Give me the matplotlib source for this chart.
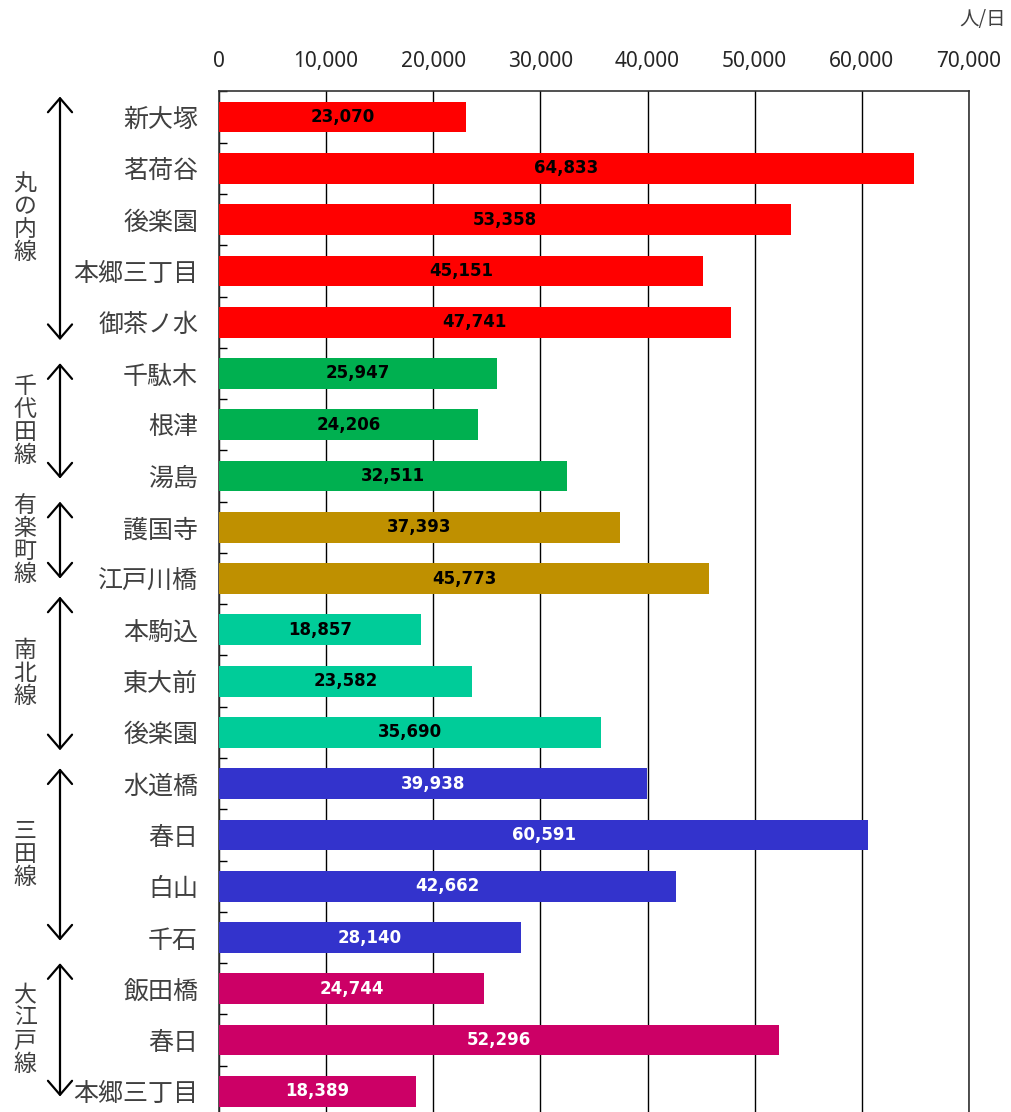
import matplotlib.pyplot as plt
import matplotlib.transforms as mtransforms
import numpy as np

plt.rcParams['font.family'] = ['Noto Sans CJK JP', 'DejaVu Sans']

# data
stations = ['新大塚', '茗荷谷', '後楽園', '本郷三丁目', '御茶ノ水',
            '千駄木', '根津', '湯島',
            '護国寺', '江戸川橋',
            '本駒込', '東大前', '後楽園',
            '水道橋', '春日', '白山', '千石',
            '飯田橋', '春日', '本郷三丁目']
riders = [23070, 64833, 53358, 45151, 47741,
          25947, 24206, 32511,
          37393, 45773,
          18857, 23582, 35690,
          39938, 60591, 42662, 28140,
          24744, 52296, 18389]
lines = ['丸の内線', '千代田線', '有楽町線', '南北線', '三田線', '大江戸線']
line_sizes = [5, 3, 2, 3, 4, 3]
line_colors = ['#FF0000', '#00B050', '#BF9000', '#00CC99', '#3333CC', '#CC0066']
label_colors = ['black', 'black', 'black', 'black', 'white', 'white']
x_ticks = [0, 10000, 20000, 30000, 40000, 50000, 60000, 70000]

# arrow end offsets (in slots) for each line group
arrow_pad = [(-0.4, 0.35), (-0.2, 0.05), (-0.5, 0.0), (-0.65, 0.35), (-0.3, 0.06), (-0.5, 0.1)]

fig = plt.figure(figsize=(10.11, 11.12), dpi=100)
ax = fig.add_axes([219 / 1011, -0.0045, 750 / 1011, 0.9223])

bar_cols, txt_cols = [], []
for n, c, t in zip(line_sizes, line_colors, label_colors):
    bar_cols += [c] * n
    txt_cols += [t] * n

y = np.arange(len(stations))
ax.barh(y, riders, height=0.6, color=bar_cols, zorder=3)
for yi, v, tc in zip(y, riders, txt_cols):
    ax.text(v / 2, yi, f'{v:,}', ha='center', va='center', color=tc,
            fontsize=12, fontweight='bold', family='DejaVu Sans', zorder=4)

ax.set_xlim(0, 70000)
ax.set_ylim(len(stations) - 0.5, -0.5)
ax.xaxis.tick_top()
ax.set_xticks(x_ticks)
ax.set_xticklabels([f'{t:,}' for t in x_ticks], fontsize=15, color='#262626',
                   family=['Noto Sans', 'DejaVu Sans'])
ax.tick_params(axis='x', length=0, pad=14)
ax.grid(axis='x', color='black', linewidth=1, zorder=0)

ax.set_yticks(y)
ax.set_yticklabels(stations, fontsize=18, color='#404040')
ax.tick_params(axis='y', length=0, pad=15)
ax.set_yticks(np.arange(len(stations) + 1) - 0.5, minor=True)
ax.tick_params(axis='y', which='minor', direction='in', length=6, width=1)

for s in ax.spines.values():
    s.set_color('#333333')
    s.set_linewidth(1.2)

fig.text(983 / 1011, 1 - 20 / 1112, '人/日', ha='center', va='center',
         fontsize=14, color='#404040')

trans = mtransforms.blended_transform_factory(fig.transFigure, ax.transData)
start = 0
for name, n, (p0, p1) in zip(lines, line_sizes, arrow_pad):
    top = start + p0
    bot = start + n - 1 + p1
    ax.annotate('', xy=(60 / 1011, top), xytext=(60 / 1011, bot),
                xycoords=trans, textcoords=trans,
                arrowprops=dict(arrowstyle='<->,head_length=0.36,head_width=0.31',
                                color='black', lw=1.6,
                                mutation_scale=28, shrinkA=0, shrinkB=0),
                annotation_clip=False)
    ax.text(25 / 1011, (top + bot) / 2, '\n'.join(name), transform=trans,
            ha='center', va='center', fontsize=16.5, color='#404040',
            linespacing=1.0, clip_on=False)
    start += n

fig.savefig('out.png', dpi=100)
